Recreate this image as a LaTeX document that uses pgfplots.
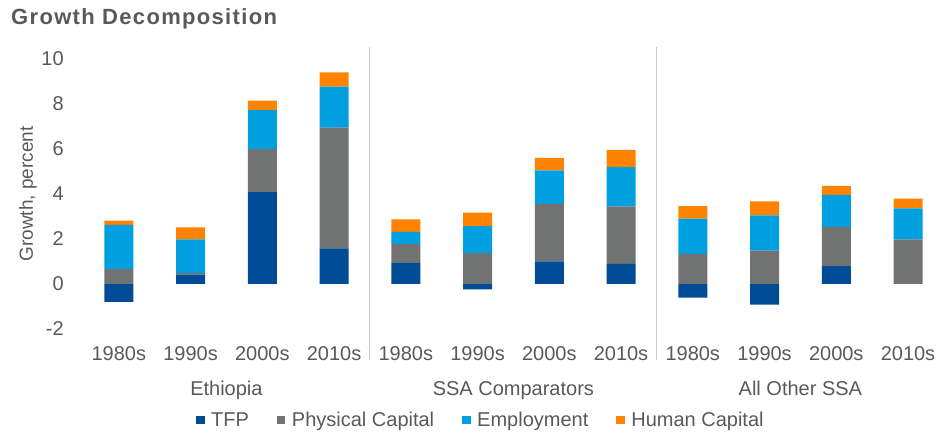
\documentclass[border=0pt]{standalone}
\usepackage{pgfplots}
\pgfplotsset{compat=1.18}
\usepackage{pgfplotstable}
\usepackage{fontspec}
\setmainfont{Liberation Sans}
\definecolor{tfp}{HTML}{004C97}
\definecolor{phys}{HTML}{707372}
\definecolor{emp}{HTML}{009FDF}
\definecolor{hum}{HTML}{FF8200}
\definecolor{txt}{HTML}{595959}
\definecolor{sepc}{HTML}{C8C8C8}
\newcommand{\lab}{\fontsize{20bp}{23bp}\selectfont}

\pgfplotstableread{
x tfppos tfpneg pc emp hc
0 0 -0.80 0.65 1.96 0.19
1 0.41 0 0.08 1.48 0.53
2 4.07 0 1.90 1.73 0.42
3 1.57 0 5.36 1.81 0.64
4 0.93 0 0.83 0.54 0.56
5 0 -0.24 1.36 1.20 0.60
6 1.00 0 2.55 1.48 0.56
7 0.89 0 2.55 1.73 0.77
8 0 -0.61 1.33 1.56 0.56
9 0 -0.92 1.47 1.57 0.62
10 0.79 0 1.74 1.41 0.40
11 0 0 1.97 1.38 0.43
}\growth

\pgfplotsset{
  base/.style={
    at={(82.9bp,104bp)}, anchor=south west, scale only axis,
    width=853.8bp, height=282bp,
    xmin=-0.5, xmax=11.4, ymin=-2, ymax=10.5,
    bar width=29bp, clip=false,
  }
}

\begin{document}
\begin{tikzpicture}
\useasboundingbox (0,0) rectangle (938bp,433bp);

\begin{axis}[base, hide axis, ybar, bar shift=0pt]
\addplot[fill=tfp, draw=none] table[x=x, y=tfpneg] {\growth};
\end{axis}

\begin{axis}[base,
  ybar stacked,
  axis line style={draw=none}, major tick style={draw=none},
  xtick={0,...,11},
  xticklabels={1980s,1990s,2000s,2010s,1980s,1990s,2000s,2010s,1980s,1990s,2000s,2010s},
  ytick={-2,0,2,4,6,8,10},
  /pgf/number format/assume math mode=true,
  xticklabel style={anchor=base, inner sep=0pt, yshift=-31bp, font=\lab, text=txt},
  yticklabel style={anchor=east, inner sep=0pt, xshift=-19bp, font=\lab, text=txt},
  legend columns=4,
  legend style={at={(0.465,0)}, anchor=center, yshift=-91bp, draw=none, fill=none,
    font=\lab, text=txt, nodes={inner sep=0pt},
    /tikz/every odd column/.append style={column sep=6.5bp},
    /tikz/every even column/.append style={column sep=28bp}},
  legend cell align=left,
  legend image code/.code={\fill[#1] (0bp,-4.25bp) rectangle (8.5bp,4.25bp);},
]
\addplot[fill=tfp, draw=none] table[x=x, y=tfppos] {\growth};
\addplot[fill=phys, draw=none] table[x=x, y=pc] {\growth};
\addplot[fill=emp, draw=none] table[x=x, y=emp] {\growth};
\addplot[fill=hum, draw=none] table[x=x, y=hc] {\growth};
\legend{TFP, Physical Capital, Employment, Human Capital}

\draw[sepc, line width=1bp] (axis cs:3.5,10.5) -- ([yshift=-31bp]axis cs:3.5,-2);
\draw[sepc, line width=1bp] (axis cs:7.5,10.5) -- ([yshift=-31bp]axis cs:7.5,-2);
\node[anchor=base, text=txt, font=\lab, inner sep=0pt] at ([yshift=-66bp]axis cs:1.5,-2) {Ethiopia};
\node[anchor=base, text=txt, font=\lab, inner sep=0pt] at ([yshift=-66bp]axis cs:5.5,-2) {SSA Comparators};
\node[anchor=base, text=txt, font=\lab, inner sep=0pt] at ([yshift=-66bp]axis cs:9.5,-2) {All Other SSA};
\end{axis}

\node[rotate=90, anchor=center, text=txt, font=\fontsize{19bp}{22bp}\selectfont, inner sep=0pt] at (28bp,239bp) {Growth, percent};
\node[anchor=base west, inner sep=0pt, text=txt, font=\fontsize{22bp}{25bp}\selectfont\bfseries\addfontfeature{LetterSpace=6}] at (11bp,408bp) {Growth Decomposition};
\end{tikzpicture}
\end{document}
